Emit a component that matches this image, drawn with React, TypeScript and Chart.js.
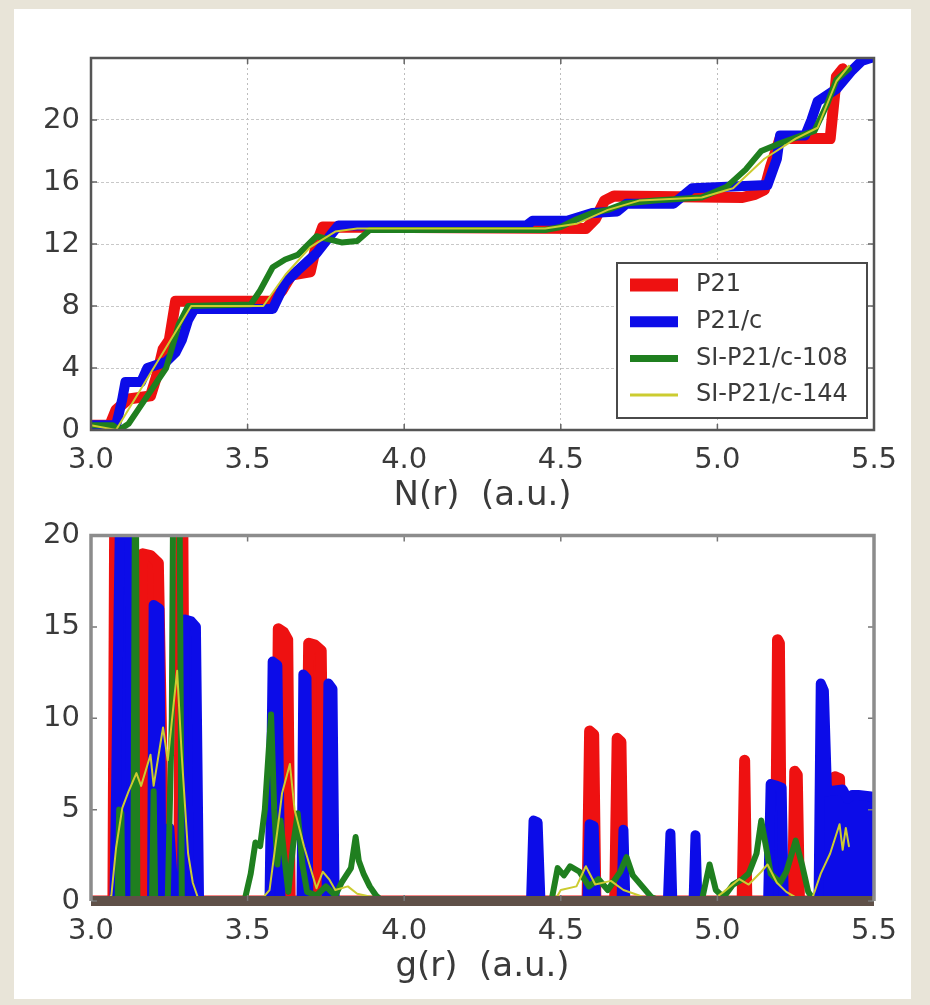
import React, { useEffect, useRef } from "react";
import { Chart, registerables } from "chart.js";

Chart.register(...registerables);

// ---------- shared ----------
const SERIES_NAMES = ["P21", "P21/c", "SI-P21/c-108", "SI-P21/c-144"];
const SERIES_COLORS = ["#ee1111", "#0c0ce8", "#1f7f1f", "#cccc30"];
const X_TICKS = [3.0, 3.5, 4.0, 4.5, 5.0, 5.5];

// ---------- top panel: N(r) ----------
const nRedX = [3.00, 3.06, 3.08, 3.12, 3.19, 3.21, 3.23, 3.25, 3.27, 3.58, 3.61, 3.64, 3.70, 3.72, 3.74, 4.58, 4.61, 4.64, 4.67, 5.08, 5.12, 5.15, 5.17, 5.20, 5.36, 5.38, 5.40];
const nRedY = [0.3, 0.3, 1.3, 2.0, 2.2, 3.5, 5.2, 5.8, 8.3, 8.3, 9.0, 10.0, 10.2, 12.0, 13.1, 13.0, 13.6, 14.8, 15.1, 15.0, 15.2, 15.5, 17.0, 18.8, 18.8, 22.8, 23.3];

const nBlueX = [3.00, 3.08, 3.10, 3.11, 3.16, 3.18, 3.24, 3.27, 3.29, 3.31, 3.33, 3.58, 3.62, 3.66, 3.72, 3.77, 3.79, 4.39, 4.41, 4.52, 4.60, 4.68, 4.71, 4.86, 4.92, 5.16, 5.19, 5.20, 5.28, 5.30, 5.32, 5.38, 5.43, 5.46, 5.49];
const nBlueY = [0.3, 0.3, 2.0, 3.1, 3.1, 4.0, 4.4, 5.0, 5.8, 7.1, 7.8, 7.8, 9.5, 10.3, 11.4, 12.7, 13.2, 13.2, 13.5, 13.5, 14.0, 14.1, 14.6, 14.6, 15.6, 15.8, 17.5, 19.0, 19.0, 20.0, 21.2, 22.0, 23.2, 23.8, 24.0];

const nGreenX = [3.00, 3.07, 3.09, 3.12, 3.15, 3.20, 3.24, 3.28, 3.31, 3.51, 3.54, 3.58, 3.62, 3.66, 3.72, 3.76, 3.80, 3.85, 3.89, 4.45, 4.50, 4.55, 4.60, 4.65, 4.70, 4.80, 4.95, 5.03, 5.09, 5.14, 5.20, 5.31, 5.35, 5.38, 5.42];
const nGreenY = [0.3, 0.3, 0.0, 0.4, 1.3, 2.8, 4.0, 6.8, 8.0, 8.1, 9.0, 10.5, 11.0, 11.3, 12.5, 12.3, 12.1, 12.2, 12.9, 12.9, 13.1, 13.6, 14.0, 14.2, 14.6, 14.8, 15.0, 15.7, 16.8, 18.0, 18.5, 19.3, 21.0, 22.6, 23.3];

const nYellowX = [3.00, 3.08, 3.20, 3.32, 3.55, 3.62, 3.70, 3.78, 3.85, 4.45, 4.55, 4.65, 4.75, 4.95, 5.05, 5.15, 5.25, 5.32, 5.38, 5.42];
const nYellowY = [0.3, 0.0, 4.0, 8.0, 8.0, 10.0, 11.8, 12.8, 13.0, 13.0, 13.3, 14.2, 14.8, 15.0, 15.6, 17.5, 18.8, 19.5, 22.5, 23.5];

// ---------- bottom panel: g(r) ----------
const gRedX = [3.00, 3.07, 3.078, 3.085, 3.12, 3.14, 3.165, 3.19, 3.215, 3.235, 3.28, 3.29, 3.30, 3.59, 3.598, 3.615, 3.628, 3.636, 3.685, 3.695, 3.715, 3.735, 3.745, 4.584, 4.592, 4.605, 4.612, 4.672, 4.68, 4.692, 4.70, 5.079, 5.087, 5.094, 5.185, 5.192, 5.198, 5.205, 5.24, 5.247, 5.255, 5.262, 5.365, 5.375, 5.39, 5.40, 5.50];
const gRedY = [0, 0, 30, 30, 0, 0, 19.0, 18.9, 18.5, 0, 0, 30, 0, 0, 14.9, 14.7, 14.3, 0, 0, 14.1, 14.0, 13.7, 0, 0, 9.3, 9.1, 0, 0, 8.9, 8.7, 0, 0, 7.7, 0, 0, 14.3, 14.1, 0, 0, 7.1, 6.9, 0, 0, 6.8, 6.7, 0, 0];

const gBlueX = [3.00, 3.075, 3.10, 3.12, 3.13, 3.195, 3.20, 3.218, 3.225, 3.235, 3.25, 3.265, 3.29, 3.30, 3.32, 3.335, 3.345, 3.57, 3.58, 3.595, 3.605, 3.672, 3.678, 3.688, 3.694, 3.752, 3.758, 3.771, 3.778, 4.405, 4.413, 4.426, 4.435, 4.585, 4.592, 4.605, 4.612, 4.694, 4.70, 4.706, 4.842, 4.85, 4.856, 4.924, 4.93, 4.936, 5.162, 5.17, 5.19, 5.205, 5.212, 5.323, 5.33, 5.34, 5.35, 5.40, 5.415, 5.43, 5.45, 5.50];
const gBlueY = [0, 0, 30, 30, 0, 0, 16.2, 16.0, 0, 0, 4.0, 0, 0, 15.4, 15.3, 15.0, 0, 0, 13.1, 12.9, 0, 0, 12.4, 12.2, 0, 0, 11.9, 11.6, 0, 0, 4.4, 4.3, 0, 0, 4.2, 4.1, 0, 0, 3.9, 0, 0, 3.7, 0, 0, 3.6, 0, 0, 6.4, 6.3, 6.2, 0, 0, 11.9, 11.5, 6.0, 6.1, 5.6, 5.8, 5.8, 5.7];

const gGreenX = [3.00, 3.085, 3.09, 3.097, 3.10, 3.135, 3.142, 3.148, 3.195, 3.20, 3.205, 3.245, 3.258, 3.265, 3.28, 3.29, 3.49, 3.51, 3.525, 3.54, 3.555, 3.575, 3.585, 3.595, 3.605, 3.62, 3.63, 3.645, 3.66, 3.675, 3.69, 3.72, 3.75, 3.78, 3.80, 3.83, 3.845, 3.855, 3.87, 3.89, 3.91, 3.93, 4.47, 4.49, 4.51, 4.53, 4.56, 4.59, 4.62, 4.65, 4.69, 4.71, 4.73, 4.76, 4.79, 4.82, 4.95, 4.975, 4.995, 5.02, 5.05, 5.08, 5.10, 5.125, 5.14, 5.155, 5.17, 5.20, 5.22, 5.25, 5.27, 5.29, 5.31, 5.50];
const gGreenY = [0, 0, 5.0, 4.8, 0, 0, 30, 0, 0, 6.0, 0, 0, 10.0, 30, 30, 0, 0, 1.5, 3.2, 3.0, 5.0, 10.2, 5.0, 2.0, 4.4, 2.0, 0.5, 3.0, 4.8, 2.0, 0.5, 0.3, 0.8, 0.3, 1.0, 1.8, 3.5, 2.2, 1.5, 0.8, 0.3, 0, 0, 1.8, 1.4, 1.9, 1.6, 0.8, 1.2, 0.6, 1.6, 2.4, 1.4, 0.8, 0.2, 0, 0, 2.0, 0.6, 0.2, 0.9, 1.2, 1.5, 2.6, 4.4, 3.0, 1.5, 1.0, 1.6, 3.3, 2.0, 0.5, 0, 0];

const gYellowX = [3.00, 3.05, 3.065, 3.08, 3.10, 3.12, 3.145, 3.16, 3.19, 3.20, 3.23, 3.245, 3.275, 3.29, 3.31, 3.325, 3.345, 3.54, 3.57, 3.60, 3.61, 3.635, 3.65, 3.68, 3.72, 3.74, 3.76, 3.78, 3.82, 3.85, 3.90, 3.92, 4.48, 4.50, 4.55, 4.58, 4.61, 4.66, 4.70, 4.75, 4.80, 4.98, 5.02, 5.07, 5.10, 5.14, 5.16, 5.19, 5.22, 5.25, 5.28, 5.30, 5.33, 5.36, 5.39, 5.40, 5.41, 5.42];
const gYellowY = [0, 0, 0.3, 2.9, 5.1, 6.0, 7.0, 6.3, 8.0, 6.3, 9.5, 7.7, 12.6, 7.9, 2.6, 1.0, 0, 0, 0.6, 4.5, 5.9, 7.5, 5.0, 3.0, 0.7, 1.6, 1.2, 0.6, 0.8, 0.4, 0.2, 0, 0, 0.6, 0.8, 1.9, 0.9, 1.1, 0.6, 0.3, 0, 0, 0.5, 1.2, 0.9, 1.6, 2.0, 1.0, 0.5, 0.2, 0, 0, 1.5, 2.6, 4.2, 2.8, 4.0, 3.0];

const FONT = "'DejaVu Sans', 'Noto Sans', sans-serif";
const TEXT_COLOR = "#3a3a3a";
const TICK_SIZE = 29;
const TITLE_SIZE = 34;

const pts = (xs: number[], ys: number[]) => xs.map((x, i) => ({ x, y: ys[i] }));

// draws frame + inward ticks (matplotlib-like spines)
const framePlugin = {
  id: "frame",
  afterDatasetsDraw(chart: any, _args: any, opts: any) {
    const { ctx, chartArea: a, scales } = chart;
    ctx.save();
    if (opts.baseColor) {
      ctx.strokeStyle = opts.baseColor;
      ctx.lineWidth = opts.baseWidth;
      ctx.beginPath();
      ctx.moveTo(a.left, a.bottom);
      ctx.lineTo(a.right, a.bottom);
      ctx.stroke();
    }
    ctx.strokeStyle = opts.tickColor || "#555";
    ctx.lineWidth = 1.5;
    const L = 6;
    scales.x.ticks.forEach((t: any) => {
      const px = scales.x.getPixelForValue(t.value);
      ctx.beginPath();
      ctx.moveTo(px, a.bottom); ctx.lineTo(px, a.bottom - L);
      ctx.moveTo(px, a.top); ctx.lineTo(px, a.top + L);
      ctx.stroke();
    });
    scales.y.ticks.forEach((t: any) => {
      const py = scales.y.getPixelForValue(t.value);
      ctx.beginPath();
      ctx.moveTo(a.left, py); ctx.lineTo(a.left + L, py);
      ctx.moveTo(a.right, py); ctx.lineTo(a.right - L, py);
      ctx.stroke();
    });
    ctx.strokeStyle = opts.color;
    ctx.lineWidth = opts.width;
    ctx.beginPath();
    ctx.moveTo(a.left, a.bottom);
    ctx.lineTo(a.left, a.top);
    ctx.lineTo(a.right, a.top);
    ctx.lineTo(a.right, a.bottom);
    if (!opts.baseColor) ctx.closePath();
    ctx.stroke();
    ctx.restore();
  },
};

const LEGEND_WIDTHS = [13, 11, 7, 3];
const boxLegendPlugin = {
  id: "boxLegend",
  afterDraw(chart: any) {
    const { ctx, chartArea: a } = chart;
    const w = 250, h = 155;
    const x0 = a.right - 7 - w;
    const y0 = a.bottom - 12 - h;
    ctx.save();
    ctx.fillStyle = "#ffffff";
    ctx.strokeStyle = "#4a4a4a";
    ctx.lineWidth = 2;
    ctx.fillRect(x0, y0, w, h);
    ctx.strokeRect(x0, y0, w, h);
    chart.data.datasets.forEach((ds: any, i: number) => {
      const yy = y0 + 22 + i * 36.7;
      ctx.strokeStyle = ds.borderColor;
      ctx.lineWidth = LEGEND_WIDTHS[i];
      ctx.lineCap = "butt";
      ctx.beginPath();
      ctx.moveTo(x0 + 13, yy);
      ctx.lineTo(x0 + 61, yy);
      ctx.stroke();
      ctx.fillStyle = TEXT_COLOR;
      ctx.font = `24px ${FONT}`;
      ctx.textBaseline = "middle";
      ctx.textAlign = "left";
      ctx.fillText(ds.label, x0 + 79, yy);
    });
    ctx.restore();
  },
};

function makeDatasets(xsList: number[][], ysList: number[][], widths: number[], fills: boolean[]) {
  return xsList.map((xs, i) => ({
    label: SERIES_NAMES[i],
    data: pts(xs, ysList[i]),
    borderColor: SERIES_COLORS[i],
    backgroundColor: SERIES_COLORS[i],
    borderWidth: widths[i],
    fill: fills[i] ? "origin" : false,
    pointRadius: 0,
    tension: 0,
    borderJoinStyle: "round" as const,
    borderCapStyle: "round" as const,
    order: 4 - i,
  }));
}

function xScale(title: string, grid: boolean) {
  return {
    type: "linear" as const,
    min: 3,
    max: 5.5,
    afterBuildTicks: (s: any) => {
      s.ticks = X_TICKS.map((v) => ({ value: v }));
    },
    ticks: {
      padding: 16,
      color: TEXT_COLOR,
      font: { family: FONT, size: TICK_SIZE, lineHeight: 1 },
      maxRotation: 0,
      autoSkip: false,
      callback: (v: any) => Number(v).toFixed(1),
    },
    grid: { display: grid, color: "#bdbdbd", lineWidth: 1, drawTicks: false },
    border: { display: false, dash: [2, 3] },
    title: {
      display: true,
      text: title,
      color: TEXT_COLOR,
      font: { family: FONT, size: TITLE_SIZE, lineHeight: 1 },
      padding: { top: 0, bottom: -3 },
    },
    afterFit: (s: any) => {
      s.height = 80;
    },
  };
}

function topConfig(): any {
  return {
    type: "line",
    data: {
      datasets: makeDatasets(
        [nRedX, nBlueX, nGreenX, nYellowX],
        [nRedY, nBlueY, nGreenY, nYellowY],
        [11, 10, 6, 2],
        [false, false, false, false]
      ),
    },
    options: {
      animation: false,
      responsive: true,
      maintainAspectRatio: false,
      layout: { padding: { left: 0, top: 58, right: 56, bottom: 0 } },
      plugins: {
        legend: { display: false },
        tooltip: { enabled: false },
        frame: { color: "#555555", width: 2.5, tickColor: "#666" },
      },
      scales: {
        x: xScale("N(r)  (a.u.)", true),
        y: {
          type: "linear",
          min: 0,
          max: 24,
          ticks: {
            stepSize: 2,
            padding: 11,
            color: TEXT_COLOR,
            font: { family: FONT, size: TICK_SIZE, lineHeight: 1 },
            callback: (v: any) => (v % 4 === 0 && v < 24 ? String(v) : ""),
          },
          grid: { color: "#c8c8c8", lineWidth: 1, drawTicks: false },
          border: { display: false, dash: [3, 2] },
          afterFit: (s: any) => {
            s.width = 91;
          },
        },
      },
    },
    plugins: [framePlugin, boxLegendPlugin],
  };
}

function bottomConfig(): any {
  return {
    type: "line",
    data: {
      datasets: makeDatasets(
        [gRedX, gBlueX, gGreenX, gYellowX],
        [gRedY, gBlueY, gGreenY, gYellowY],
        [11, 10, 6, 2],
        [true, true, false, false]
      ),
    },
    options: {
      animation: false,
      responsive: true,
      maintainAspectRatio: false,
      layout: { padding: { left: 0, top: 23, right: 56, bottom: 24 } },
      plugins: {
        legend: { display: false },
        tooltip: { enabled: false },
        frame: { color: "#8c8c8c", width: 3.5, tickColor: "#777", baseColor: "#5f5048", baseWidth: 10 },
      },
      scales: {
        x: xScale("g(r)  (a.u.)", false),
        y: {
          type: "linear",
          min: 0,
          max: 20,
          ticks: {
            stepSize: 5,
            padding: 11,
            color: TEXT_COLOR,
            font: { family: FONT, size: TICK_SIZE, lineHeight: 1 },
          },
          grid: { display: false, drawTicks: false },
          border: { display: false },
          afterFit: (s: any) => {
            s.width = 91;
          },
        },
      },
    },
    plugins: [framePlugin],
  };
}

export default function App() {
  const topRef = useRef<HTMLCanvasElement>(null);
  const botRef = useRef<HTMLCanvasElement>(null);

  useEffect(() => {
    const c1 = new Chart(topRef.current as HTMLCanvasElement, topConfig());
    const c2 = new Chart(botRef.current as HTMLCanvasElement, bottomConfig());
    return () => {
      c1.destroy();
      c2.destroy();
    };
  }, []);

  return (
    <div
      style={{
        position: "absolute",
        left: 0,
        top: 0,
        width: 930,
        height: 1005,
        background: "#e8e4d8",
        overflow: "hidden",
      }}
    >
      <div style={{ position: "absolute", left: 14, top: 9, width: 897, height: 990, background: "#ffffff" }} />
      <div style={{ position: "absolute", left: 0, top: 0, width: 930, height: 510 }}>
        <canvas ref={topRef} />
      </div>
      <div style={{ position: "absolute", left: 0, top: 510, width: 930, height: 495 }}>
        <canvas ref={botRef} />
      </div>
    </div>
  );
}
